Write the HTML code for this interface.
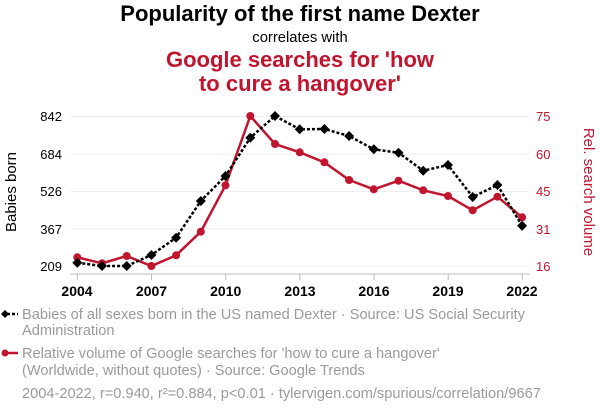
<!DOCTYPE html>
<html><head><meta charset="utf-8"><style>
body{margin:0;background:#fff;width:600px;height:414px;overflow:hidden;font-family:"Liberation Sans",sans-serif}
</style></head><body>
<svg width="600" height="414" xmlns="http://www.w3.org/2000/svg" font-family="Liberation Sans, sans-serif">
<text x="300" y="21" text-anchor="middle" font-size="22" font-weight="bold" fill="#000">Popularity of the first name Dexter</text>
<text x="300" y="42" text-anchor="middle" font-size="14.8" fill="#000">correlates with</text>
<text x="300" y="67" text-anchor="middle" font-size="22" font-weight="bold" fill="#c0152f">Google searches for 'how</text>
<text x="300" y="91" text-anchor="middle" font-size="22" font-weight="bold" fill="#c0152f">to cure a hangover'</text>
<g stroke="#eee" stroke-width="1">
<line x1="70" x2="530" y1="116.5" y2="116.5"/><line x1="70" x2="530" y1="154" y2="154"/><line x1="70" x2="530" y1="191.5" y2="191.5"/><line x1="70" x2="530" y1="229" y2="229"/><line x1="70" x2="530" y1="266" y2="266"/>
</g>
<line x1="70" x2="530" y1="274" y2="274" stroke="#bbb"/>
<g stroke="#bbb"><line x1="77.3" x2="77.3" y1="274" y2="280"/><line x1="151.5" x2="151.5" y1="274" y2="280"/><line x1="225.7" x2="225.7" y1="274" y2="280"/><line x1="299.8" x2="299.8" y1="274" y2="280"/><line x1="374" x2="374" y1="274" y2="280"/><line x1="448.2" x2="448.2" y1="274" y2="280"/><line x1="522.3" x2="522.3" y1="274" y2="280"/></g>
<g font-size="14" font-weight="bold" text-anchor="middle" fill="#000">
<text x="77" y="296">2004</text><text x="151.5" y="296">2007</text><text x="225.7" y="296">2010</text><text x="300" y="296">2013</text><text x="374" y="296">2016</text><text x="448" y="296">2019</text><text x="522" y="296">2022</text></g>
<g font-size="13" text-anchor="end" fill="#000">
<text x="62" y="121">842</text><text x="62" y="159">684</text><text x="62" y="196">526</text><text x="62" y="234">367</text><text x="62" y="271">209</text></g>
<g font-size="13" text-anchor="start" fill="#c0152f">
<text x="536" y="121">75</text><text x="536" y="159">60</text><text x="536" y="196">45</text><text x="536" y="234">31</text><text x="536" y="271">16</text></g>
<text transform="translate(16,192) rotate(-90)" text-anchor="middle" font-size="15" fill="#000">Babies born</text>
<text transform="translate(584,192) rotate(90)" text-anchor="middle" font-size="15" fill="#c0152f">Rel. search volume</text>
<polyline fill="none" stroke="#c0152f" stroke-width="2.5" points="77.3,257.3 102,263.3 126.7,256 151.4,266 176.1,255.3 200.8,231.7 225.5,185.3 250.3,116 275,144 299.7,152.3 324.4,162.3 349.1,180 373.8,189.3 398.5,180.7 423.2,190.3 448,196 472.7,210.3 497.4,196.7 522.1,217.3"/>
<g fill="#c0152f"><circle cx="77.3" cy="257.3" r="4"/><circle cx="102" cy="263.3" r="4"/><circle cx="126.7" cy="256" r="4"/><circle cx="151.4" cy="266" r="4"/><circle cx="176.1" cy="255.3" r="4"/><circle cx="200.8" cy="231.7" r="4"/><circle cx="225.5" cy="185.3" r="4"/><circle cx="250.3" cy="116" r="4"/><circle cx="275" cy="144" r="4"/><circle cx="299.7" cy="152.3" r="4"/><circle cx="324.4" cy="162.3" r="4"/><circle cx="349.1" cy="180" r="4"/><circle cx="373.8" cy="189.3" r="4"/><circle cx="398.5" cy="180.7" r="4"/><circle cx="423.2" cy="190.3" r="4"/><circle cx="448" cy="196" r="4"/><circle cx="472.7" cy="210.3" r="4"/><circle cx="497.4" cy="196.7" r="4"/><circle cx="522.1" cy="217.3" r="4"/></g>
<polyline fill="none" stroke="#000" stroke-width="2.5" stroke-dasharray="3,2" points="77.3,262.7 102,266 126.7,266 151.4,255 176.1,237.7 200.8,201 225.5,176 250.3,137.7 275,116 299.7,129.3 324.4,129 349.1,136 373.8,149.3 398.5,152.7 423.2,170.7 448,165 472.7,197 497.4,185 522.1,225.7"/>
<g fill="#000">
<path d="M77.3,257.7l5,5l-5,5l-5,-5z"/><path d="M102,261l5,5l-5,5l-5,-5z"/><path d="M126.7,261l5,5l-5,5l-5,-5z"/><path d="M151.4,250l5,5l-5,5l-5,-5z"/><path d="M176.1,232.7l5,5l-5,5l-5,-5z"/><path d="M200.8,196l5,5l-5,5l-5,-5z"/><path d="M225.5,171l5,5l-5,5l-5,-5z"/><path d="M250.3,132.7l5,5l-5,5l-5,-5z"/><path d="M275,111l5,5l-5,5l-5,-5z"/><path d="M299.7,124.3l5,5l-5,5l-5,-5z"/><path d="M324.4,124l5,5l-5,5l-5,-5z"/><path d="M349.1,131l5,5l-5,5l-5,-5z"/><path d="M373.8,144.3l5,5l-5,5l-5,-5z"/><path d="M398.5,147.7l5,5l-5,5l-5,-5z"/><path d="M423.2,165.7l5,5l-5,5l-5,-5z"/><path d="M448,160l5,5l-5,5l-5,-5z"/><path d="M472.7,192l5,5l-5,5l-5,-5z"/><path d="M497.4,180l5,5l-5,5l-5,-5z"/><path d="M522.1,220.7l5,5l-5,5l-5,-5z"/></g>
<line x1="2" x2="18" y1="314" y2="314" stroke="#000" stroke-width="2.5" stroke-dasharray="3,2"/>
<path d="M5,310l4,4l-4,4l-4,-4z" fill="#000"/>
<line x1="3" x2="18" y1="353" y2="353" stroke="#c0152f" stroke-width="2.5"/>
<circle cx="5" cy="353" r="3.5" fill="#c0152f"/>
<g font-size="14.6" fill="#9a9a9a">
<text x="22" y="319">Babies of all sexes born in the US named Dexter · Source: US Social Security</text>
<text x="22" y="335">Administration</text>
<text x="22" y="358">Relative volume of Google searches for 'how to cure a hangover'</text>
<text x="22" y="375">(Worldwide, without quotes) · Source: Google Trends</text>
<text x="22" y="398">2004-2022, r=0.940, r²=0.884, p&lt;0.01 · tylervigen.com/spurious/correlation/9667</text>
</g>
</svg>
</body></html>
